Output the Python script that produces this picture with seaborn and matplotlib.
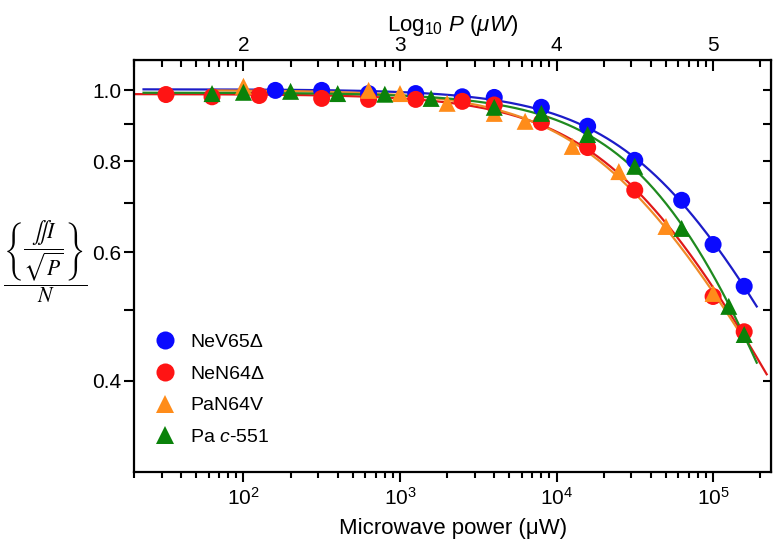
import numpy as np
import pandas as pd
import matplotlib
matplotlib.use('Agg')
import matplotlib.pyplot as plt
import matplotlib.ticker as mticker
import seaborn as sns

# data: microwave power (uW) and normalised signal
samples = ['NeV65Δ', 'NeN64Δ', 'PaN64V', 'Pa $c$-551']
markers = ['o', 'o', '^', '^']
colors = ['#0a0aff', '#ff1414', '#ff8c1a', '#0a820a']
line_colors = ['#1c1cc8', '#e01818', '#f08a28', '#1f8a1f']

nev_power = [160, 316, 630, 1260, 2500, 4000, 8000, 15800, 31600, 63000, 100000, 158000]
nev_signal = [1.00, 1.00, 0.99, 0.99, 0.98, 0.978, 0.948, 0.893, 0.802, 0.707, 0.615, 0.539]

nen_power = [32, 63, 126, 316, 630, 1260, 2500, 4000, 8000, 15800, 31600, 100000, 158000]
nen_signal = [0.987, 0.98, 0.984, 0.975, 0.972, 0.972, 0.966, 0.955, 0.904, 0.835, 0.730, 0.522, 0.467]

pan_power = [100, 630, 1000, 2000, 4000, 6300, 12600, 25000, 50000, 100000]
pan_signal = [1.013, 1.0, 0.99, 0.96, 0.93, 0.907, 0.838, 0.774, 0.651, 0.527]

pac_power = [63, 100, 200, 400, 800, 1580, 4000, 8000, 15800, 31600, 63000, 126000, 158000]
pac_signal = [0.99, 0.994, 0.997, 0.99, 0.988, 0.975, 0.948, 0.930, 0.870, 0.787, 0.647, 0.506, 0.463]

# range over which each fitted curve is drawn
fit_start = [23, 20, 60, 23]
fit_end = [1.9e5, 2.2e5, 1.6e5, 1.9e5]

powers = [nev_power, nen_power, pan_power, pac_power]
signals = [nev_signal, nen_signal, pan_signal, pac_signal]

df = pd.concat([pd.DataFrame({'power': p, 'signal': s, 'sample': name})
                for name, p, s in zip(samples, powers, signals)], ignore_index=True)


def fit_saturation(p, y):
    # y = A / (1 + P/P12)^(b/2), grid search on P12 and b, A by least squares
    p = np.asarray(p, float)
    y = np.asarray(y, float)
    best = None
    for p12 in np.logspace(3, 6, 300):
        for b in np.linspace(0.6, 3.0, 121):
            f = (1 + p / p12) ** (-b / 2)
            a = np.sum(y * f) / np.sum(f * f)
            err = np.sum((np.log(y) - np.log(a * f)) ** 2)
            if best is None or err < best[0]:
                best = (err, a, p12, b)
    return best[1:]


plt.rcParams['font.family'] = ['Liberation Sans', 'DejaVu Sans']
plt.rcParams['mathtext.fontset'] = 'custom'
plt.rcParams['mathtext.rm'] = 'Liberation Sans'
plt.rcParams['mathtext.it'] = 'Liberation Sans:italic'
plt.rcParams['mathtext.default'] = 'it'

fig = plt.figure(figsize=(7.77, 5.47), dpi=100)
ax = fig.add_axes([0.1725, 0.137, 0.82, 0.753])
ax.set_xscale('log')
ax.set_yscale('log')

# fitted curves
for name, p, s, c, x0, x1 in zip(samples, powers, signals, line_colors, fit_start, fit_end):
    a, p12, b = fit_saturation(p, s)
    xs = np.logspace(np.log10(x0), np.log10(x1), 300)
    sns.lineplot(x=xs, y=a * (1 + xs / p12) ** (-b / 2), color=c, lw=1.6, ax=ax, legend=False, zorder=2)

sns.scatterplot(data=df, x='power', y='signal', hue='sample', style='sample',
                hue_order=samples, style_order=samples,
                palette=dict(zip(samples, colors)), markers=dict(zip(samples, markers)),
                s=150, linewidth=0, ax=ax, zorder=3, legend='full')

ax.set_xlim(20, 2.35e5)
ax.set_ylim(0.3, 1.1)

handles, labels = ax.get_legend_handles_labels()
leg = ax.legend(handles, labels, loc='lower left', bbox_to_anchor=(0.0, 0.035), frameon=False,
                fontsize=14, handletextpad=0.3, labelspacing=0.72, borderaxespad=0.2)
for h in leg.legend_handles:
    if hasattr(h, 'set_sizes'):
        h.set_sizes([170])
    else:
        h.set_markersize(13)

# bottom / left axes
ax.xaxis.set_major_locator(mticker.FixedLocator([1e2, 1e3, 1e4, 1e5]))
ax.xaxis.set_major_formatter(mticker.LogFormatterSciNotation())
ax.xaxis.set_minor_locator(mticker.LogLocator(base=10, subs=np.arange(2, 10)))
ax.xaxis.set_minor_formatter(mticker.NullFormatter())
ax.yaxis.set_major_locator(mticker.FixedLocator([0.4, 0.6, 0.8, 1.0]))
ax.yaxis.set_minor_locator(mticker.FixedLocator([0.5, 0.7, 0.9]))
ax.yaxis.set_major_formatter(mticker.FormatStrFormatter('%.1f'))
ax.yaxis.set_minor_formatter(mticker.NullFormatter())
ax.tick_params(which='both', direction='out', width=1.5, labelsize=15, top=False, right=False)
ax.tick_params(axis='x', which='major', length=7, pad=4)
ax.tick_params(axis='x', which='minor', length=4)
ax.tick_params(axis='y', which='both', length=7, pad=2)
for sp in ax.spines.values():
    sp.set_linewidth(1.6)

ax.set_xlabel('Microwave power (μW)', fontsize=16, labelpad=6)
ax.set_ylabel(r'$\dfrac{\left\{\dfrac{\iint I}{\sqrt{P}}\right\}}{N}$', rotation=0,
              fontsize=15.5, math_fontfamily='stix', ha='center', va='center')
ax.yaxis.set_label_coords(-0.14, 0.51)

# top axis: log10 of power
top = ax.secondary_xaxis('top')
top.xaxis.set_major_locator(mticker.FixedLocator([1e2, 1e3, 1e4, 1e5]))
top.xaxis.set_major_formatter(mticker.FuncFormatter(lambda v, pos: f'{np.log10(v):.0f}'))
top.xaxis.set_minor_locator(mticker.LogLocator(base=10, subs=np.arange(2, 10)))
top.xaxis.set_minor_formatter(mticker.NullFormatter())
top.tick_params(which='both', direction='in', width=1.5, labelsize=15)
top.tick_params(which='major', length=8)
top.tick_params(which='minor', length=5)
top.set_xlabel(r'Log$_\mathregular{10}$ $P\ (\mu W)$', fontsize=16, labelpad=4)

# right axis: inward ticks, no labels
right = ax.secondary_yaxis('right')
right.yaxis.set_major_locator(mticker.FixedLocator([0.4, 0.6, 0.8, 1.0]))
right.yaxis.set_minor_locator(mticker.FixedLocator([0.5, 0.7, 0.9]))
right.yaxis.set_major_formatter(mticker.NullFormatter())
right.yaxis.set_minor_formatter(mticker.NullFormatter())
right.tick_params(which='both', direction='in', length=6, width=1.5)

fig.savefig('out.png', dpi=100)
